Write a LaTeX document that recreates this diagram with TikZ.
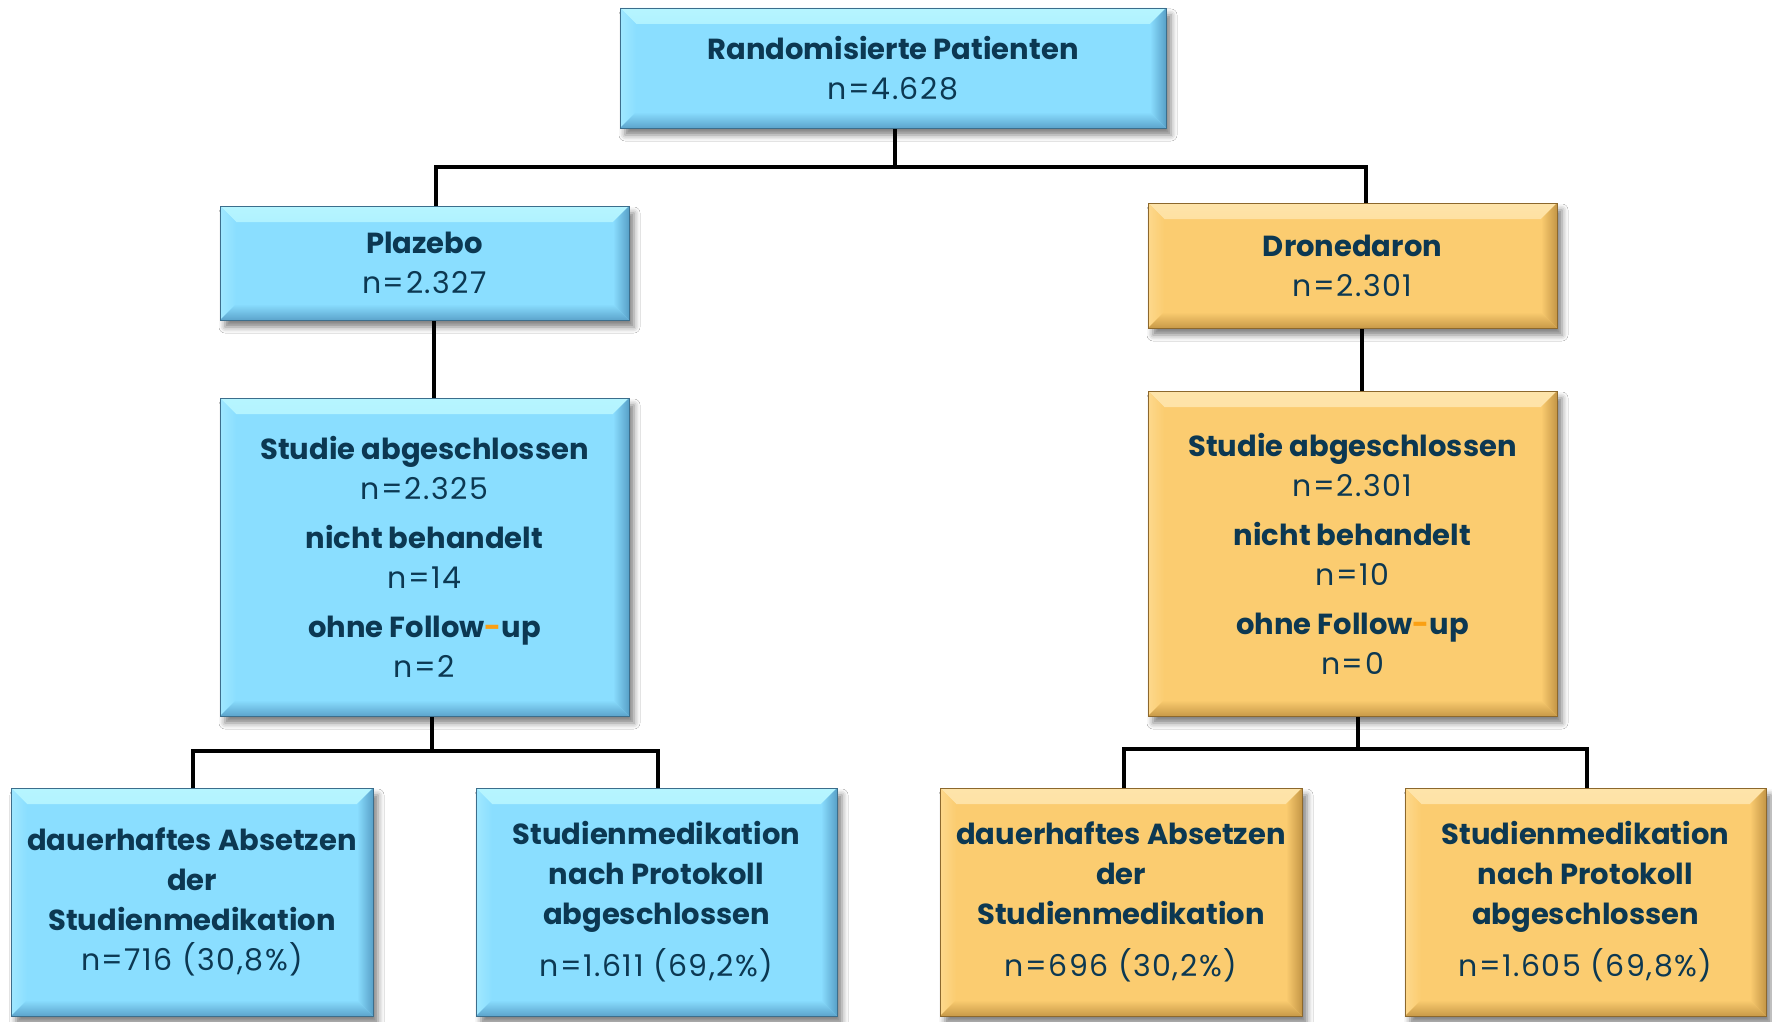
\documentclass[tikz,border=0pt]{standalone}
\usepackage{fontspec}
\setmainfont{Poppins}
\usetikzlibrary{shadows,shadows.blur,backgrounds}
\definecolor{txt}{RGB}{12,56,82}
\definecolor{hyph}{RGB}{250,160,20}
\definecolor{bB}{RGB}{138,222,255}
\definecolor{bT}{RGB}{182,245,255}
\definecolor{bL}{RGB}{160,232,255}
\definecolor{bR}{RGB}{88,160,200}
\definecolor{bD}{RGB}{92,164,204}
\definecolor{bE}{RGB}{60,110,140}
\definecolor{oB}{RGB}{251,204,112}
\definecolor{oT}{RGB}{254,228,170}
\definecolor{oL}{RGB}{253,216,140}
\definecolor{oR}{RGB}{196,150,70}
\definecolor{oD}{RGB}{200,154,72}
\definecolor{oE}{RGB}{140,104,45}
\newcommand{\nn}[1]{{\fontsize{30}{40}\selectfont\addfontfeature{LetterSpace=5}#1}}
\newcommand{\hb}[1]{\textbf{#1}}
\tikzset{
  bev/.style n args={6}{rectangle, fill=#1, draw=#6, line width=0.8pt, inner sep=0pt,
    blur shadow={shadow xshift=5pt, shadow yshift=-7pt, shadow blur radius=6pt, shadow opacity=50},
    path picture={
      \shade[top color=#2, bottom color=#1] (path picture bounding box.north west) -- (path picture bounding box.north east)
        -- ([xshift=-16pt,yshift=-16pt]path picture bounding box.north east)
        -- ([xshift=16pt,yshift=-16pt]path picture bounding box.north west) -- cycle;
      \shade[left color=#3, right color=#1] (path picture bounding box.north west) -- ([xshift=16pt,yshift=-16pt]path picture bounding box.north west)
        -- ([xshift=16pt,yshift=16pt]path picture bounding box.south west)
        -- (path picture bounding box.south west) -- cycle;
      \shade[left color=#1, right color=#4] (path picture bounding box.north east) -- (path picture bounding box.south east)
        -- ([xshift=-16pt,yshift=16pt]path picture bounding box.south east)
        -- ([xshift=-16pt,yshift=-16pt]path picture bounding box.north east) -- cycle;
      \shade[top color=#1, bottom color=#5] (path picture bounding box.south west) -- (path picture bounding box.south east)
        -- ([xshift=-16pt,yshift=16pt]path picture bounding box.south east)
        -- ([xshift=16pt,yshift=16pt]path picture bounding box.south west) -- cycle;
    },
    text=txt, align=center, font=\fontsize{29}{40}\selectfont},
  bluebox/.style={bev={bB}{bT}{bL}{bR}{bD}{bE}},
  orangebox/.style={bev={oB}{oT}{oL}{oR}{oD}{oE}},
  conn/.style={line width=4pt, black},
}
\begin{document}
\begin{tikzpicture}[x=1pt,y=-1pt]
\useasboundingbox (0,0) rectangle (1772,1022);
% boxes
\node[bluebox, minimum width=546, minimum height=120] (top) at (893,68)
  {\hb{Randomisierte Patienten}\\\nn{n=4.628}};
\node[bluebox, minimum width=409, minimum height=114] (plaz) at (424.5,263)
  {\hb{Plazebo}\\\nn{n=2.327}};
\node[orangebox, minimum width=409, minimum height=125] (dron) at (1352.5,265.5)
  {\hb{Dronedaron}\\\nn{n=2.301}};
\node[bluebox, minimum width=409, minimum height=318] (studL) at (424.5,557)
  {\hb{Studie abgeschlossen}\\\nn{n=2.325}\\[9pt]\hb{nicht behandelt}\\\nn{n=14}\\[9pt]\hb{ohne Follow\textcolor{hyph}{-}up}\\\nn{n=2}};
\node[orangebox, minimum width=409, minimum height=325] (studR) at (1352.5,553.5)
  {\hb{Studie abgeschlossen}\\\nn{n=2.301}\\[9pt]\hb{nicht behandelt}\\\nn{n=10}\\[9pt]\hb{ohne Follow\textcolor{hyph}{-}up}\\\nn{n=0}};
\node[bluebox, minimum width=362, minimum height=228] (b1) at (192,902)
  {\hb{dauerhaftes Absetzen}\\\hb{der}\\\hb{Studienmedikation}\\\nn{n=716 (30,8\%)}};
\node[bluebox, minimum width=361, minimum height=228] (b2) at (656.5,902)
  {\hb{Studienmedikation}\\\hb{nach Protokoll}\\\hb{abgeschlossen}\\[12pt]\nn{n=1.611 (69,2\%)}};
\node[orangebox, minimum width=362, minimum height=228] (b3) at (1121,902)
  {\hb{dauerhaftes Absetzen}\\\hb{der}\\\hb{Studienmedikation}\\[12pt]\nn{n=696 (30,2\%)}};
\node[orangebox, minimum width=361, minimum height=228] (b4) at (1585.5,902)
  {\hb{Studienmedikation}\\\hb{nach Protokoll}\\\hb{abgeschlossen}\\[12pt]\nn{n=1.605 (69,8\%)}};
\coordinate (j1) at (895,167);
\coordinate (j2) at (432,751);
\coordinate (j3) at (1358,749);
\begin{scope}[on background layer]
  \fill[white] (0,0) rectangle (1772,1022);
  \draw[conn] (top.south -| j1) -- (j1);
  \draw[conn] (j1) -| ([xshift=11.5pt]plaz.north);
  \draw[conn] (j1) -| ([xshift=13.5pt]dron.north);
  \draw[conn] ([xshift=9.5pt]plaz.south) -- ([xshift=9.5pt]studL.north);
  \draw[conn] ([xshift=9.5pt]dron.south) -- ([xshift=9.5pt]studR.north);
  \draw[conn] (studL.south -| j2) -- (j2);
  \draw[conn] (j2) -| ([xshift=1pt]b1.north);
  \draw[conn] (j2) -| ([xshift=1.5pt]b2.north);
  \draw[conn] (studR.south -| j3) -- (j3);
  \draw[conn] (j3) -| ([xshift=3pt]b3.north);
  \draw[conn] (j3) -| ([xshift=1.5pt]b4.north);
\end{scope}
\end{tikzpicture}
\end{document}
